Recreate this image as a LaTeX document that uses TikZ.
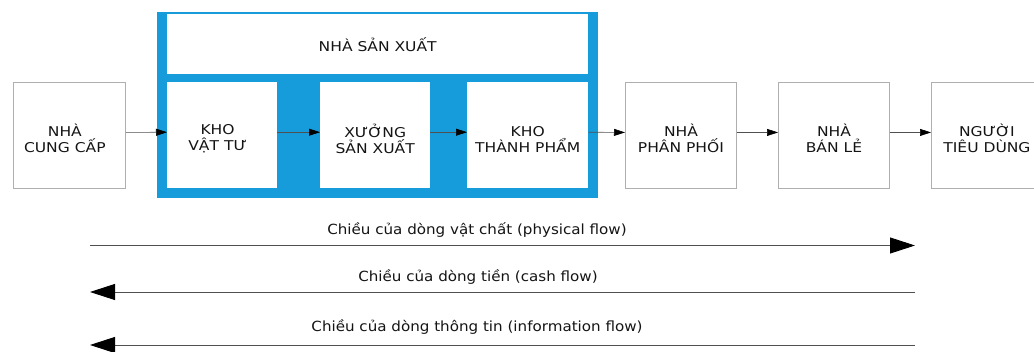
\documentclass[tikz,border=0pt]{standalone}
\usepackage{fontspec}
\setmainfont{DejaVu Sans}
\usetikzlibrary{arrows.meta}
\definecolor{nblue}{RGB}{22,155,219}
\definecolor{boxgray}{RGB}{175,175,175}
\definecolor{linegray}{RGB}{80,80,80}
\definecolor{txt}{RGB}{20,20,20}
\begin{document}
\begin{tikzpicture}[x=1pt,y=-1pt,
  lbl/.style={font=\fontsize{13.5}{16}\selectfont, text=txt, align=center, xscale=1.15, transform shape},
  obox/.style={draw=boxgray, line width=0.9pt, fill=white, minimum width=111pt, minimum height=106pt, anchor=north west, inner sep=0pt},
  ibox/.style={fill=white, minimum height=106pt, anchor=north west, inner sep=0pt},
  flow/.style={draw=linegray, line width=0.6pt, -{Triangle[length=11pt,width=7pt,color=black]}},
  bigflow/.style={draw=linegray, line width=0.9pt, -{Triangle[length=25pt,width=16pt,color=black]}},
  flowlbl/.style={font=\fontsize{14}{16}\selectfont, text=txt, xscale=1.08, transform shape}
]
\useasboundingbox (0,0) rectangle (1034,352);
% manufacturer frame
\node[fill=nblue, anchor=north west, minimum width=441pt, minimum height=186pt, inner sep=0pt] (mfr) at (157,12) {};
\node[fill=white, anchor=north west, minimum width=421pt, minimum height=60pt, inner sep=0pt] (nsx) at (167,14) {};
\node[lbl] (nsxt) at (nsx.center) {NHÀ SẢN XUẤT};
\node[ibox, minimum width=110pt, label={[lbl, yshift=-4pt, xshift=-4pt]center:KHO\\VẬT TƯ}] (kvt) at (167,82) {};
\node[ibox, minimum width=110pt, label={[lbl, yshift=-4pt]center:XƯỞNG\\SẢN XUẤT}] (xsx) at (320,82) {};
\node[ibox, minimum width=121pt, label={[lbl, yshift=-4pt]center:KHO\\THÀNH PHẨM}] (ktp) at (467,82) {};
% outside boxes
\node[obox, minimum width=112pt, label={[lbl, yshift=-3pt, xshift=-4pt]center:NHÀ\\CUNG CẤP}] (ncc) at (13,82) {};
\node[obox, label={[lbl, yshift=-3pt]center:NHÀ\\PHÂN PHỐI}] (npp) at (625,82) {};
\node[obox, label={[lbl, yshift=-3pt]center:NHÀ\\BÁN LẺ}] (nbl) at (778,82) {};
\node[obox, label={[lbl, yshift=-3pt]center:NGƯỜI\\TIÊU DÙNG}] (ntd) at (931,82) {};
% chain arrows
\draw[flow] ([yshift=3pt]ncc.east) -- ([yshift=3pt]kvt.west);
\draw[flow] ([yshift=3pt]kvt.east) -- ([yshift=3pt]xsx.west);
\draw[flow] ([yshift=3pt]xsx.east) -- ([yshift=3pt]ktp.west);
\draw[flow] ([yshift=3pt]ktp.east) -- ([yshift=3pt]npp.west);
\draw[flow] ([yshift=3pt]npp.east) -- ([yshift=3pt]nbl.west);
\draw[flow] ([yshift=3pt]nbl.east) -- ([yshift=3pt]ntd.west);
% flow arrows
\coordinate (p1l) at (90,245.5);
\coordinate (p1r) at (915,245.5);
\coordinate (p2l) at (90,292);
\coordinate (p2r) at (915,292);
\coordinate (p3l) at (90,345);
\coordinate (p3r) at (915,345);
\draw[bigflow] (p1l) -- (p1r);
\draw[bigflow] (p2r) -- (p2l);
\draw[bigflow] (p3r) -- (p3l);
\node[flowlbl] (t1) at (477,230) {Chiều của dòng vật chất (physical flow)};
\node[flowlbl] (t2) at (478,277) {Chiều của dòng tiền (cash flow)};
\node[flowlbl] (t3) at (477,327) {Chiều của dòng thông tin (information flow)};
\end{tikzpicture}
\end{document}
